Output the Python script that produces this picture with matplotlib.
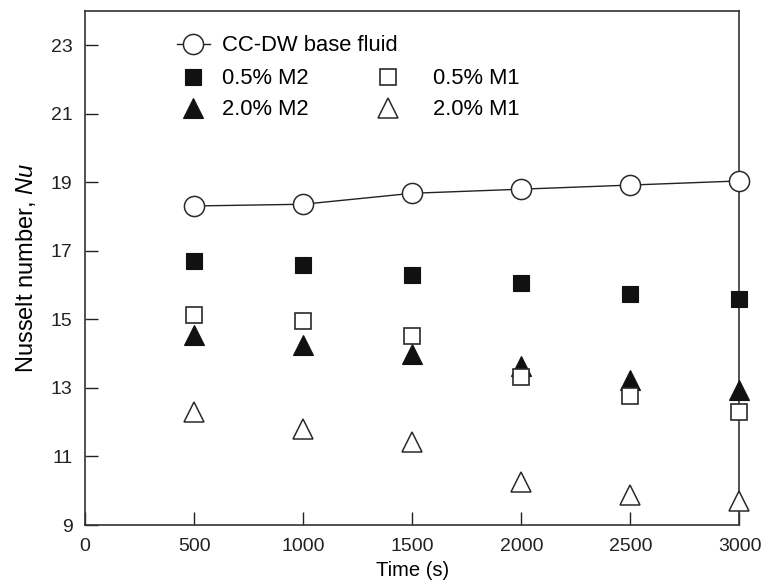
import matplotlib
matplotlib.use("Agg")
import matplotlib.pyplot as plt

plt.rcParams['font.family'] = ['Liberation Sans', 'DejaVu Sans']
plt.rcParams['mathtext.fontset'] = 'custom'
plt.rcParams['mathtext.rm'] = 'Liberation Sans'
plt.rcParams['mathtext.it'] = 'Liberation Sans:italic'

time_s = [500, 1000, 1500, 2000, 2500, 3000]
base_fluid = [18.31, 18.36, 18.68, 18.80, 18.92, 19.04]
m2_05 = [16.70, 16.58, 16.29, 16.05, 15.73, 15.59]
m1_05 = [15.13, 14.94, 14.52, 13.32, 12.76, 12.31]
m2_20 = [14.54, 14.25, 14.00, 13.64, 13.22, 12.95]
m1_20 = [12.30, 11.80, 11.43, 10.26, 9.89, 9.70]
xticks = [0, 500, 1000, 1500, 2000, 2500, 3000]
yticks = [9, 11, 13, 15, 17, 19, 21, 23]

fig = plt.figure(figsize=(7.63, 5.87), dpi=100)
ax = fig.add_axes([0.1114, 0.1056, 0.8578, 0.8757])

edge = '#2a2a2a'
fill = '#111111'
common = dict(linestyle='none', clip_on=False, zorder=4)

h_base, = ax.plot(time_s, base_fluid, marker='o', ms=14.5, mfc='white', mec=edge,
                  mew=1.1, color='#222222', lw=1.0, clip_on=False, zorder=4,
                  label='CC-DW base fluid')
h_m2_05, = ax.plot(time_s, m2_05, marker='s', ms=12, mfc=fill, mec=fill, mew=0.8,
                   label='0.5% M2', **common)
h_m2_20, = ax.plot(time_s, m2_20, marker='^', ms=14, mfc=fill, mec=fill, mew=0.8,
                   label='2.0% M2', **common)
h_m1_05, = ax.plot(time_s, m1_05, marker='s', ms=12, mfc='white', mec=edge, mew=1.2,
                   label='0.5% M1', **common)
h_m1_20, = ax.plot(time_s, m1_20, marker='^', ms=14, mfc='white', mec=edge, mew=1.1,
                   label='2.0% M1', **common)

ax.set_xlim(0, 3000)
ax.set_ylim(9, 24)
ax.set_xticks(xticks)
ax.set_yticks(yticks)
ax.tick_params(axis='both', direction='in', length=9.5, width=1.0, labelsize=14,
               pad=9, colors='#222222')
for s in ax.spines.values():
    s.set_linewidth(1.2)
    s.set_color('#333333')

ax.set_xlabel('Time (s)', fontsize=14.5, labelpad=5)
ax.set_ylabel('Nusselt number, $Nu$', fontsize=17, labelpad=9)

lkw = dict(frameon=False, fontsize=15.8, borderpad=0, borderaxespad=0,
           handlelength=1.5, numpoints=1)
legA = ax.legend(handles=[h_base], loc='center left', bbox_to_anchor=(0.1406, 0.932),
                 handletextpad=0.55, **lkw)
ax.add_artist(legA)
legB = ax.legend(handles=[h_m2_05, h_m2_20], loc='center left',
                 bbox_to_anchor=(0.1406, 0.838), handletextpad=0.55,
                 labelspacing=0.45, **lkw)
ax.add_artist(legB)
legC = ax.legend(handles=[h_m1_05, h_m1_20], loc='center left',
                 bbox_to_anchor=(0.4377, 0.838), handletextpad=1.3,
                 labelspacing=0.45, **lkw)

fig.savefig('out.png', dpi=100)
